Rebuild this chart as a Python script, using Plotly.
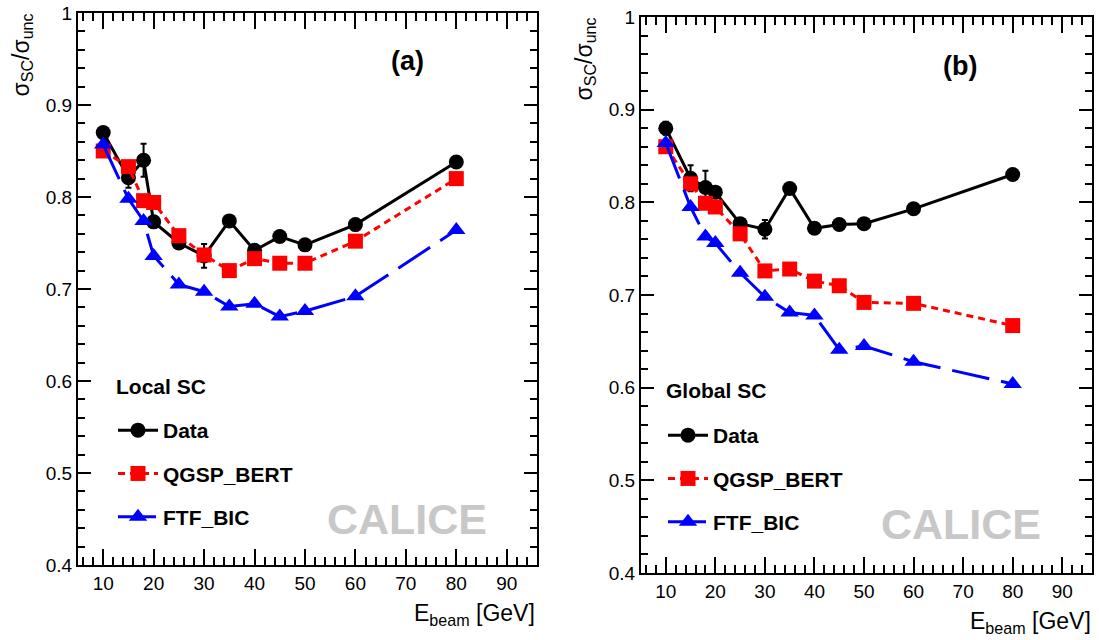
import plotly.graph_objects as go

W, H = 1099, 640

# ---------------- data ----------------
energy = [10, 15, 18, 20, 25, 30, 35, 40, 45, 50, 60, 80]

local_data = [0.870, 0.821, 0.840, 0.773, 0.750, 0.736, 0.774, 0.742, 0.757, 0.748, 0.770, 0.838]
local_data_err = [0.006, 0.011, 0.018, 0.004, 0.004, 0.013, 0.003, 0.003, 0.003, 0.003, 0.003, 0.003]
local_qgsp = [0.850, 0.833, 0.796, 0.794, 0.758, 0.737, 0.720, 0.733, 0.728, 0.728, 0.752, 0.820]
local_ftf = [0.857, 0.798, 0.774, 0.736, 0.705, 0.697, 0.681, 0.684, 0.670, 0.676, 0.692, 0.764]

global_data = [0.880, 0.826, 0.816, 0.811, 0.777, 0.771, 0.815, 0.772, 0.776, 0.777, 0.793, 0.830]
global_data_err = [0.007, 0.014, 0.018, 0.004, 0.005, 0.010, 0.003, 0.003, 0.003, 0.003, 0.003, 0.003]
global_qgsp = [0.860, 0.820, 0.799, 0.795, 0.766, 0.726, 0.728, 0.715, 0.710, 0.692, 0.691, 0.667]
global_ftf = [0.864, 0.795, 0.763, 0.756, 0.724, 0.698, 0.681, 0.678, 0.641, 0.645, 0.628, 0.604]

series_names = ["Data", "QGSP_BERT", "FTF_BIC"]
x_ticks = [10, 20, 30, 40, 50, 60, 70, 80, 90]
y_ticks = [0.4, 0.5, 0.6, 0.7, 0.8, 0.9, 1.0]
y_ticklabels = ["0.4", "0.5", "0.6", "0.7", "0.8", "0.9", "1"]

FONT = "Liberation Sans, Arial, Helvetica, sans-serif"


def px(x):
    return x / W


def py(y):
    return 1 - y / H


fig = go.Figure()

styles = [
    dict(color="black", dash="solid", symbol="circle", size=15),
    dict(color="#ff0000", dash="7px,5px", symbol="square", size=15),
    dict(color="#0000ff", dash="38px,12px", symbol="triangle-up", size=16),
]

panels = [
    ("x", "y", "legend", [local_data, local_qgsp, local_ftf], local_data_err),
    ("x2", "y2", "legend2", [global_data, global_qgsp, global_ftf], global_data_err),
]

for xa, ya, lg, vals, err in panels:
    for i, (name, v, st) in enumerate(zip(series_names, vals, styles)):
        tr = dict(
            x=energy, y=v, name=name, mode="lines+markers",
            xaxis=xa, yaxis=ya, legend=lg, legendgroup=lg + name,
            line=dict(color=st["color"], width=3, dash=st["dash"]),
            marker=dict(color=st["color"], symbol=st["symbol"], size=st["size"],
                        line=dict(width=0)),
        )
        if i == 0:
            tr["error_y"] = dict(type="data", array=err, color="black",
                                 thickness=2, width=3)
        fig.add_trace(go.Scatter(**tr))

axis_common = dict(
    showline=True, linecolor="black", linewidth=2, mirror="ticks",
    ticks="inside", tickcolor="black", tickwidth=2,
    showgrid=False, zeroline=False, automargin=False,
    tickfont=dict(family=FONT, size=19, color="black"),
)

left_x = [78, 537]
left_y = [13, 565]
right_x = [641, 1092]
right_y = [17, 573]

for xa, ya, xd, yd in [("xaxis", "yaxis", left_x, left_y),
                       ("xaxis2", "yaxis2", right_x, right_y)]:
    anchor_x = "y" if xa == "xaxis" else "y2"
    anchor_y = "x" if ya == "yaxis" else "x2"
    fig.layout[xa] = dict(
        axis_common, domain=[px(xd[0]), px(xd[1])], range=[5, 96],
        tickvals=x_ticks, ticklen=16, anchor=anchor_x,
        minor=dict(dtick=2, tick0=0, ticklen=8, tickwidth=2, ticks="inside",
                   tickcolor="black", showgrid=False),
    )
    fig.layout[ya] = dict(
        axis_common, domain=[py(yd[1]), py(yd[0])], range=[0.4, 1.0],
        tickvals=y_ticks, ticktext=y_ticklabels, ticklen=13, anchor=anchor_y,
        minor=dict(dtick=0.02, tick0=0, ticklen=7, tickwidth=2, ticks="inside",
                   tickcolor="black", showgrid=False),
    )

legend_common = dict(
    bgcolor="rgba(0,0,0,0)", borderwidth=0,
    font=dict(family=FONT, size=21, color="black", weight="bold"),
    tracegroupgap=13, itemwidth=40, xanchor="left", yanchor="top",
)
fig.update_layout(
    legend=dict(legend_common, x=px(113), y=py(410)),
    legend2=dict(legend_common, x=px(663), y=py(415)),
)

ann = []
ytitle = "σ<sub>SC</sub>/σ<sub>unc</sub>"
xtitle = "E<sub>beam</sub> [GeV]"
for cx, top in [(22, 12), (585, 16)]:
    ann.append(dict(text=ytitle, x=px(cx), y=py(top), xref="paper", yref="paper",
                    xanchor="center", yanchor="top", textangle=-90, showarrow=False,
                    font=dict(family=FONT, size=23, color="black")))
for rx, top in [(537, 598), (1093, 606)]:
    ann.append(dict(text=xtitle, x=px(rx), y=py(top), xref="paper", yref="paper",
                    xanchor="right", yanchor="top", showarrow=False,
                    font=dict(family=FONT, size=23, color="black")))
for lab, cx, cy in [("(a)", 407, 61), ("(b)", 960, 66)]:
    ann.append(dict(text="<b>%s</b>" % lab, x=px(cx), y=py(cy), xref="paper", yref="paper",
                    xanchor="center", yanchor="middle", showarrow=False,
                    font=dict(family=FONT, size=27, color="black")))
for cx, cy in [(407, 519), (961, 524)]:
    ann.append(dict(text="<b>CALICE</b>", x=px(cx), y=py(cy), xref="paper", yref="paper",
                    xanchor="center", yanchor="middle", showarrow=False,
                    font=dict(family=FONT, size=43, color="#c8c8c8")))
for lab, lx, cy in [("Local SC", 114, 386), ("Global SC", 664, 390)]:
    ann.append(dict(text="<b>%s</b>" % lab, x=px(lx), y=py(cy), xref="paper", yref="paper",
                    xanchor="left", yanchor="middle", showarrow=False,
                    font=dict(family=FONT, size=21, color="black")))

fig.update_layout(
    width=W, height=H, margin=dict(l=0, r=0, t=0, b=0, autoexpand=False),
    paper_bgcolor="white", plot_bgcolor="white",
    annotations=ann, font=dict(family=FONT, color="black"),
)

fig.write_html("out.html", config={"displayModeBar": False},
               post_script="document.body.style.margin='0';document.body.style.overflow='hidden';")
